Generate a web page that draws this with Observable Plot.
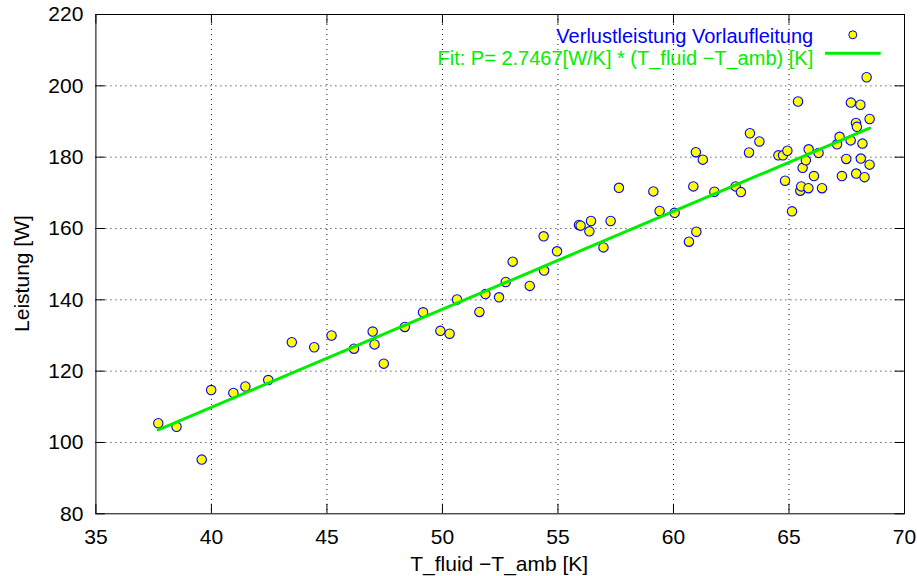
<!DOCTYPE html>
<html>
<head>
<meta charset="utf-8">
<script src="https://cdn.jsdelivr.net/npm/d3@7"></script>
<script src="https://cdn.jsdelivr.net/npm/@observablehq/plot@0.6"></script>
<style>
  html, body { margin: 0; padding: 0; background: #fff; }
  #chart svg { display: block; }
</style>
</head>
<body>
<div id="chart"></div>
<script>
// Measured temperature difference T_fluid - T_amb [K]
const tempDiff = [
  37.70, 38.49, 39.58, 39.99, 40.95, 41.47, 42.46, 43.48, 44.45, 45.20,
  46.17, 46.98, 47.06, 47.46, 48.37, 49.16, 49.91, 50.31, 50.63, 51.60,
  51.86, 52.45, 52.74, 53.04, 53.78, 54.38, 54.40, 54.96, 55.91, 55.98,
  56.36, 56.43, 56.97, 57.28, 57.64, 59.13, 59.40, 60.05, 60.67, 60.86,
  60.97, 60.99, 61.27, 61.77, 62.69, 62.92, 63.27, 63.31, 63.72, 64.54,
  64.74, 64.83, 64.93, 65.13, 65.39, 65.49, 65.53, 65.59, 65.73, 65.84,
  65.85, 66.08, 66.28, 66.43, 67.08, 67.19, 67.29, 67.48, 67.67, 67.68,
  67.90, 67.91, 67.94, 68.09, 68.11, 68.18, 68.27, 68.36, 68.49, 68.49
];
// Measured heat loss power [W]
const power = [
  105.4, 104.4,  95.2, 114.7, 113.9, 115.7, 117.5, 128.1, 126.7, 130.0,
  126.3, 131.1, 127.5, 122.1, 132.4, 136.5, 131.3, 130.5, 140.1, 136.6,
  141.6, 140.7, 145.0, 150.7, 143.9, 157.8, 148.2, 153.6, 161.0, 160.8,
  159.2, 162.1, 154.7, 162.1, 171.4, 170.4, 164.9, 164.4, 156.3, 171.8,
  181.4, 159.1, 179.3, 170.3, 171.8, 170.2, 181.3, 186.7, 184.4, 180.5,
  180.5, 173.4, 181.8, 164.8, 195.6, 170.6, 171.8, 177.0, 179.1, 171.3,
  182.2, 174.7, 181.2, 171.3, 183.6, 185.7, 174.7, 179.5, 184.7, 195.3,
  189.6, 175.4, 188.5, 194.7, 179.6, 183.8, 174.4, 202.4, 190.7, 177.9
];
// Fit slope from the legend: P = 2.7467 [W/K] * dT
const fitSlope = 2.7467;

const xTicks = [35, 40, 45, 50, 55, 60, 65, 70];
const yTicks = [80, 100, 120, 140, 160, 180, 200, 220];
const xGrid = [40, 45, 50, 55, 60, 65];
const yGrid = [100, 120, 140, 160, 180, 200];

const seriesLabel = "Verlustleistung Vorlaufleitung";
const fitLabel = "Fit: P= 2.7467[W/K] * (T_fluid \u2212T_amb) [K]";
const xLabel = "T_fluid \u2212T_amb [K]";
const yLabel = "Leistung [W]";

const points = tempDiff.map((t, i) => ({t, p: power[i]}));
const fitLine = d3.extent(tempDiff).map(t => ({t, p: fitSlope * t}));

const W = 917, H = 576;
const mL = 95.4, mR = 13, mT = 14, mB = 62.7;
const frameW = W - mL - mR, frameH = H - mT - mB;
const tickLen = 9.5;

const blue = "#0000ff";
const green = "#00ee00";
const fontFamily = "'Liberation Sans', Arial, Helvetica, sans-serif";

const legendLine = (index, scales, values, dims) => {
  const ns = "http://www.w3.org/2000/svg";
  const ln = document.createElementNS(ns, "line");
  const xr = dims.width - dims.marginRight;
  ln.setAttribute("x1", xr - 79);
  ln.setAttribute("x2", xr - 23.3);
  ln.setAttribute("y1", dims.marginTop + 39.3);
  ln.setAttribute("y2", dims.marginTop + 39.3);
  ln.setAttribute("stroke", green);
  ln.setAttribute("stroke-width", 3);
  return ln;
};

const chart = Plot.plot({
  width: W,
  height: H,
  marginLeft: mL,
  marginRight: mR,
  marginTop: mT,
  marginBottom: mB,
  style: {fontFamily, fontSize: "21px", background: "#fff", color: "#000", overflow: "visible"},
  x: {domain: [35, 70], ticks: xTicks, tickSize: 0, tickPadding: 15, label: null, tickFormat: d => String(d)},
  y: {domain: [80, 220], ticks: yTicks, tickSize: 0, tickPadding: 12.5, label: null, tickFormat: d => String(d)},
  marks: [
    // dotted grid
    Plot.ruleX(xGrid, {x: d => d, stroke: "#000", strokeWidth: 1, strokeDasharray: "1,4", strokeOpacity: 0.9}),
    Plot.ruleY(yGrid, {y: d => d, stroke: "#000", strokeWidth: 1, strokeDasharray: "1,4", strokeOpacity: 0.9}),
    // inward tick marks on all four sides
    Plot.ruleX(xTicks, {x: d => d, insetTop: frameH - tickLen, stroke: "#000"}),
    Plot.ruleX(xTicks, {x: d => d, insetBottom: frameH - tickLen, stroke: "#000"}),
    Plot.ruleY(yTicks, {y: d => d, insetRight: frameW - tickLen, stroke: "#000"}),
    Plot.ruleY(yTicks, {y: d => d, insetLeft: frameW - tickLen, stroke: "#000"}),
    Plot.frame({stroke: "#000", strokeWidth: 1}),
    // data
    Plot.dot(points, {x: "t", y: "p", r: 4.7, fill: "#ffff00", stroke: blue, strokeWidth: 1.1}),
    Plot.line(fitLine, {x: "t", y: "p", stroke: green, strokeWidth: 3}),
    // legend
    Plot.text([seriesLabel], {frameAnchor: "top-right", text: d => d, textAnchor: "end", lineAnchor: "middle", dx: -91.3, dy: 21.6, fill: blue, fontSize: 20}),
    Plot.dot([0], {frameAnchor: "top-right", dx: -51.7, dy: 20.3, r: 4, fill: "#ffff00", stroke: blue, strokeWidth: 1}),
    Plot.text([fitLabel], {frameAnchor: "top-right", text: d => d, textAnchor: "end", lineAnchor: "middle", dx: -91.3, dy: 44.4, fill: green, fontSize: 20}),
    legendLine,
    // axis titles
    Plot.text([xLabel], {frameAnchor: "bottom", text: d => d, textAnchor: "middle", lineAnchor: "middle", dx: -1, dy: 50.7, fill: "#000", fontSize: 21}),
    Plot.text([yLabel], {frameAnchor: "left", text: d => d, textAnchor: "middle", lineAnchor: "middle", rotate: -90, dx: -73.8, dy: 9.4, fill: "#000", fontSize: 21})
  ]
});

document.getElementById("chart").appendChild(chart);
</script>
</body>
</html>
